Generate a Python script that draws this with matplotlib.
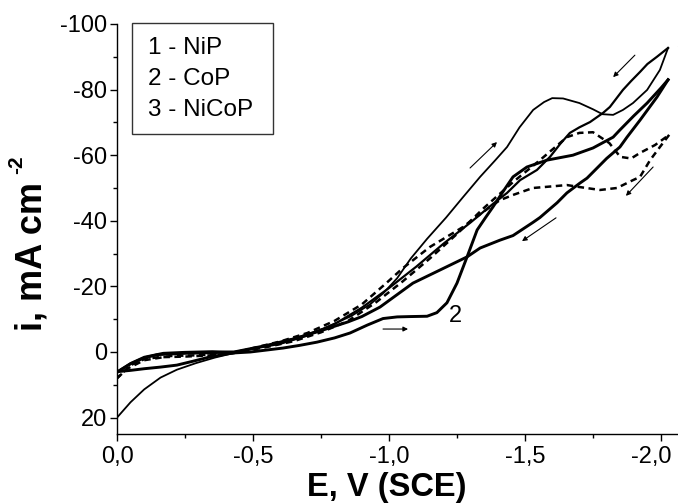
import matplotlib
matplotlib.use("Agg")
import matplotlib.pyplot as plt
from matplotlib.patches import Rectangle
from matplotlib.ticker import MultipleLocator, FuncFormatter
from matplotlib.transforms import ScaledTranslation

plt.rcParams['font.family'] = ['Liberation Sans', 'DejaVu Sans']
plt.rcParams['axes.unicode_minus'] = False

# 1 - NiP (thin solid)
nip_fwd_e = [0, -0.05, -0.10, -0.16, -0.22, -0.29, -0.36, -0.43, -0.50, -0.58, -0.67, -0.76,
             -0.86, -0.93, -0.98, -1.03, -1.08, -1.14, -1.21, -1.27, -1.335, -1.39, -1.434,
             -1.48, -1.53, -1.57, -1.60, -1.64, -1.70, -1.75, -1.785, -1.824, -1.86, -1.897,
             -1.949, -1.996, -2.026]
nip_fwd_i = [20, 15.3, 11.4, 7.8, 5.4, 3.4, 1.7, 0.3, -1.0, -2.6, -4.6, -7.2,
             -10.9, -14.5, -18, -22.5, -28.5, -34.5, -41, -47, -53.4, -58.4, -62.5,
             -68.5, -73.8, -76.2, -77.4, -77.3, -75.9, -74, -72.5, -72.3, -73.8, -75.9,
             -79.9, -86, -92.7]
nip_rev_e = [-2.026, -1.985, -1.95, -1.923, -1.89, -1.86, -1.812, -1.787, -1.739, -1.70,
             -1.665, -1.63, -1.592, -1.544, -1.482, -1.434, -1.38, -1.30, -1.20, -1.10,
             -1.00, -0.90, -0.80, -0.70, -0.60, -0.50, -0.43, -0.35, -0.25, -0.17, -0.10,
             -0.05, 0]
nip_rev_i = [-92.7, -90, -87.8, -85.4, -82.6, -79.9, -74.7, -72.9, -70.1, -68.5,
             -66.8, -63.5, -59.5, -55.5, -52.4, -48.5, -45, -39.5, -33, -26,
             -19.5, -13.5, -8.5, -5.0, -2.5, -1.0, 0, -0.2, 0, 0.3, 1.5,
             3.4, 6]

# 2 - CoP (thick solid)
cop_fwd_e = [0, -0.05, -0.10, -0.16, -0.22, -0.28, -0.342, -0.426, -0.49, -0.55, -0.61, -0.67,
             -0.735, -0.80, -0.857, -0.92, -0.978, -1.03, -1.077, -1.14, -1.176, -1.213,
             -1.25, -1.287, -1.324, -1.355, -1.382, -1.42, -1.456, -1.507, -1.581, -1.676,
             -1.75, -1.824, -1.849, -1.90, -1.949, -2.0, -2.026]
cop_fwd_i = [6, 5.6, 5.1, 4.6, 4, 2.8, 1.5, 0.3, 0, -0.6, -1.2, -2,
             -3, -4.3, -5.8, -8.2, -10.2, -10.7, -10.8, -10.9, -12, -15,
             -21, -29, -37.2, -41, -44.2, -49, -53.4, -56.4, -58.5, -60,
             -62.2, -65.5, -67.7, -72, -75.9, -80.5, -83]
cop_rev_e = [-2.026, -1.985, -1.923, -1.875, -1.849, -1.80, -1.776, -1.728, -1.702, -1.654,
             -1.618, -1.555, -1.529, -1.456, -1.408, -1.335, -1.287, -1.20, -1.088, -1.03,
             -0.967, -0.90, -0.85, -0.75, -0.65, -0.55, -0.43, -0.35, -0.25, -0.15, -0.10,
             -0.05, 0]
cop_rev_i = [-83, -77.7, -70.7, -65.5, -62.5, -59, -57, -53, -51.5, -48.5,
             -45.5, -41, -39.5, -35.5, -34.1, -31.7, -29, -25.5, -21, -17.5,
             -13.7, -10.8, -9.2, -6.5, -4, -2, 0, 0.2, 0.4, 0.8, 1.8,
             3.6, 6.2]

# 3 - NiCoP (dashed)
nicop_fwd_e = [0, -0.04, -0.10, -0.20, -0.30, -0.43, -0.55, -0.65, -0.75, -0.85, -0.95, -1.05,
               -1.15, -1.25, -1.35, -1.456, -1.555, -1.654, -1.70, -1.75, -1.81, -1.85, -1.89,
               -1.923, -1.978, -2.03]
nicop_fwd_i = [8, 5, 2.5, 1.2, 1.0, 0.3, -1.5, -3.3, -6, -9.5, -15, -21.5,
               -28.5, -36, -44, -51.8, -58.5, -65.5, -66.8, -67, -63.7, -59.5, -59,
               -60.7, -63.1, -66.2]
nicop_rev_e = [-2.03, -1.996, -1.96, -1.923, -1.897, -1.838, -1.776, -1.70, -1.654, -1.60,
               -1.529, -1.46, -1.408, -1.371, -1.27, -1.15, -1.05, -0.99, -0.90, -0.80,
               -0.70, -0.60, -0.50, -0.43, -0.35, -0.25, -0.15, -0.10, -0.05, 0]
nicop_rev_i = [-66.2, -62.5, -58.5, -53.4, -52.4, -50, -49.4, -50.3, -50.9, -50.5,
               -50, -48, -46.3, -44.2, -38, -32, -25.5, -21, -14.5, -9.5,
               -5.8, -3.2, -1.2, 0.3, 1.0, 1.4, 1.6, 2.2, 4, 8]

legend_lines = ['1 - NiP', '2 - CoP', '3 - NiCoP']

# scan direction arrows: (start E, start i, end E, end i)
arrows = [(-1.298, -56.1, -1.397, -64.0),
          (-1.904, -90.5, -1.824, -83.8),
          (-1.971, -56.4, -1.871, -47.6),
          (-1.614, -40.9, -1.489, -33.8),
          (-0.978, -7.0, -1.07, -7.0)]

fig = plt.figure(figsize=(6.78, 5.04), dpi=100)
ax = fig.add_axes([117 / 678, 70 / 504, 561 / 678, 410 / 504])

ax.plot(nip_fwd_e, nip_fwd_i, color='black', lw=1.3, solid_joinstyle='round')
ax.plot(nip_rev_e, nip_rev_i, color='black', lw=1.6, solid_joinstyle='round')
ax.plot(cop_fwd_e, cop_fwd_i, color='black', lw=2.1, solid_joinstyle='round')
ax.plot(cop_rev_e, cop_rev_i, color='black', lw=2.1, solid_joinstyle='round')
ax.plot(nicop_fwd_e, nicop_fwd_i, color='black', lw=1.8, dashes=(2.6, 1.8))
ax.plot(nicop_rev_e, nicop_rev_i, color='black', lw=1.8, dashes=(2.6, 1.8))

for e0, i0, e1, i1 in arrows:
    ax.annotate('', xy=(e1, i1), xytext=(e0, i0),
                arrowprops=dict(arrowstyle='-|>', lw=0.8, color='black',
                                mutation_scale=7, shrinkA=0, shrinkB=0))

ax.text(-1.246, -11, '2', fontsize=17, ha='center', va='center')
# curve number at the right edge, cut by the picture border as in the original
ax.text(0.9964, 0.949, '3', transform=ax.transAxes, fontsize=17,
        ha='left', va='center', clip_on=False)

ax.set_xlim(0, -2.0625)
ax.set_ylim(25, -100)

ax.spines['top'].set_visible(False)
ax.spines['right'].set_visible(False)
ax.spines['left'].set_linewidth(1.0)
ax.spines['bottom'].set_linewidth(1.0)
ax.spines['left'].set_bounds(25, -100)

ax.xaxis.set_major_locator(MultipleLocator(0.5))
ax.xaxis.set_minor_locator(MultipleLocator(0.25))
ax.yaxis.set_major_locator(MultipleLocator(20))
ax.yaxis.set_minor_locator(MultipleLocator(10))
ax.xaxis.set_major_formatter(FuncFormatter(lambda v, p: ('%.1f' % v).replace('.', ',').replace('-0,0', '0,0')))
ax.yaxis.set_major_formatter(FuncFormatter(lambda v, p: '%d' % v))
ax.tick_params(which='major', direction='out', length=5, width=1.0, labelsize=17)
ax.tick_params(which='minor', direction='out', length=3, width=1.0)
ax.tick_params(axis='x', pad=4)
ax.tick_params(axis='y', pad=2)

ax.set_xlabel('E, V (SCE)', fontsize=23.5, fontweight='bold')
ax.xaxis.set_label_coords(0.481, -0.092)
ax.set_ylabel('i, mA cm', fontsize=26, fontweight='bold')
ax.yaxis.set_label_coords(-0.121, 0.434)
fig.text(17 / 678, 1 - 165 / 504, '-2', rotation=90, ha='center', va='center',
         fontsize=15, fontweight='bold')

ax.add_patch(Rectangle((0.0267, 0.7317), 0.2513, 0.2707, transform=ax.transAxes,
                       fill=False, edgecolor='#333333', lw=1.0, clip_on=False))
for k, s in enumerate(legend_lines):
    ax.text(0.0553, 0.9415 - k * 0.0756, s, transform=ax.transAxes, fontsize=17.5,
            ha='left', va='center')

fig.canvas.draw()
# keep the last tick label inside the picture like the original
for lab in ax.get_xticklabels():
    if lab.get_text() == '-2,0':
        lab.set_transform(lab.get_transform() + ScaledTranslation(-7 / 72, 0, fig.dpi_scale_trans))

fig.savefig('out.png', dpi=100)
